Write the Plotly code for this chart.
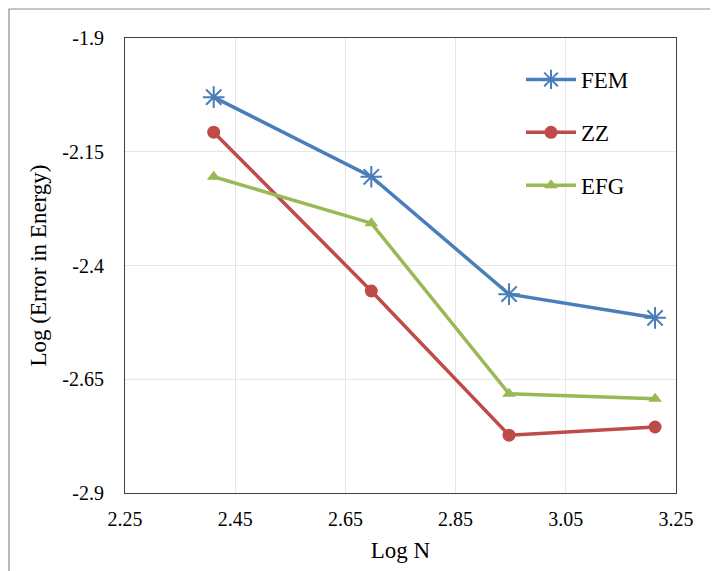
import plotly.graph_objects as go

log_n = [2.411, 2.697, 2.947, 3.212]
fem = [-2.030, -2.205, -2.463, -2.515]
zz = [-2.107, -2.456, -2.773, -2.755]
efg = [-2.205, -2.307, -2.682, -2.693]

x_ticks = [2.25, 2.45, 2.65, 2.85, 3.05, 3.25]
y_ticks = [-2.9, -2.65, -2.4, -2.15, -1.9]

FONT = "Liberation Serif, Times New Roman, serif"

fig = go.Figure()
fig.add_trace(go.Scatter(x=log_n, y=fem, name="FEM", mode="lines+markers", legendgroup="a",
                         line=dict(color="#4A7EBB", width=3.5),
                         marker=dict(symbol="asterisk-open", size=18, color="#4A7EBB",
                                     line=dict(color="#4A7EBB", width=2))))
fig.add_trace(go.Scatter(x=log_n, y=zz, name="ZZ", mode="lines+markers", legendgroup="b",
                         line=dict(color="#BE4B48", width=3.5),
                         marker=dict(symbol="circle", size=13, color="#BE4B48")))
fig.add_trace(go.Scatter(x=log_n, y=efg, name="EFG", mode="lines+markers", legendgroup="c",
                         line=dict(color="#98B954", width=3.5),
                         marker=dict(symbol="triangle-up", size=12, color="#98B954")))

# page has an 8px body margin; compensate so the plot area lands at x 125-676, y 38-493
OFF = 8
W, H = 718 - OFF, 571 - OFF
L, T = 125 - OFF, 38 - OFF
pw, ph = 551, 455
R, B = W - L - pw, H - T - ph

fig.update_layout(
    width=W, height=H,
    margin=dict(l=L, r=R, t=T, b=B, pad=0),
    paper_bgcolor="white", plot_bgcolor="white",
    font=dict(family=FONT, size=20, color="black"),
    legend=dict(x=(521 - OFF - L) / pw, y=(H - B - (88 - OFF - T)) / ph, xanchor="left", yanchor="top",
                font=dict(size=23, family=FONT), bgcolor="rgba(0,0,0,0)",
                tracegroupgap=20, itemwidth=50),
    xaxis=dict(range=[2.25, 3.25], tickvals=x_ticks, ticktext=[f"{v:.2f}" for v in x_ticks],
               showgrid=True, gridcolor="#E6E6E6", gridwidth=1, zeroline=False,
               showline=True, linecolor="#404040", linewidth=1, mirror=True,
               ticks="", ticklabelstandoff=8,
               title=dict(text="Log N", font=dict(size=23, family=FONT), standoff=12)),
    yaxis=dict(range=[-2.9, -1.9], tickvals=y_ticks, ticktext=["-2.9", "-2.65", "-2.4", "-2.15", "-1.9"],
               showgrid=True, gridcolor="#E6E6E6", gridwidth=1, zeroline=False,
               showline=True, linecolor="#404040", linewidth=1, mirror=True,
               ticks="", ticklabelstandoff=16,
               title=dict(text="Log (Error in Energy)", font=dict(size=23, family=FONT), standoff=9)),
)

fig.add_shape(type="rect", xref="paper", yref="paper",
              x0=(1 - L) / pw, x1=(W + 20 - L) / pw,
              y0=-(B + 20) / ph, y1=(H - B - 1) / ph,
              line=dict(color="#8C8C8C", width=1.2), fillcolor="rgba(0,0,0,0)", layer="below")

fig.write_html("out.html")
